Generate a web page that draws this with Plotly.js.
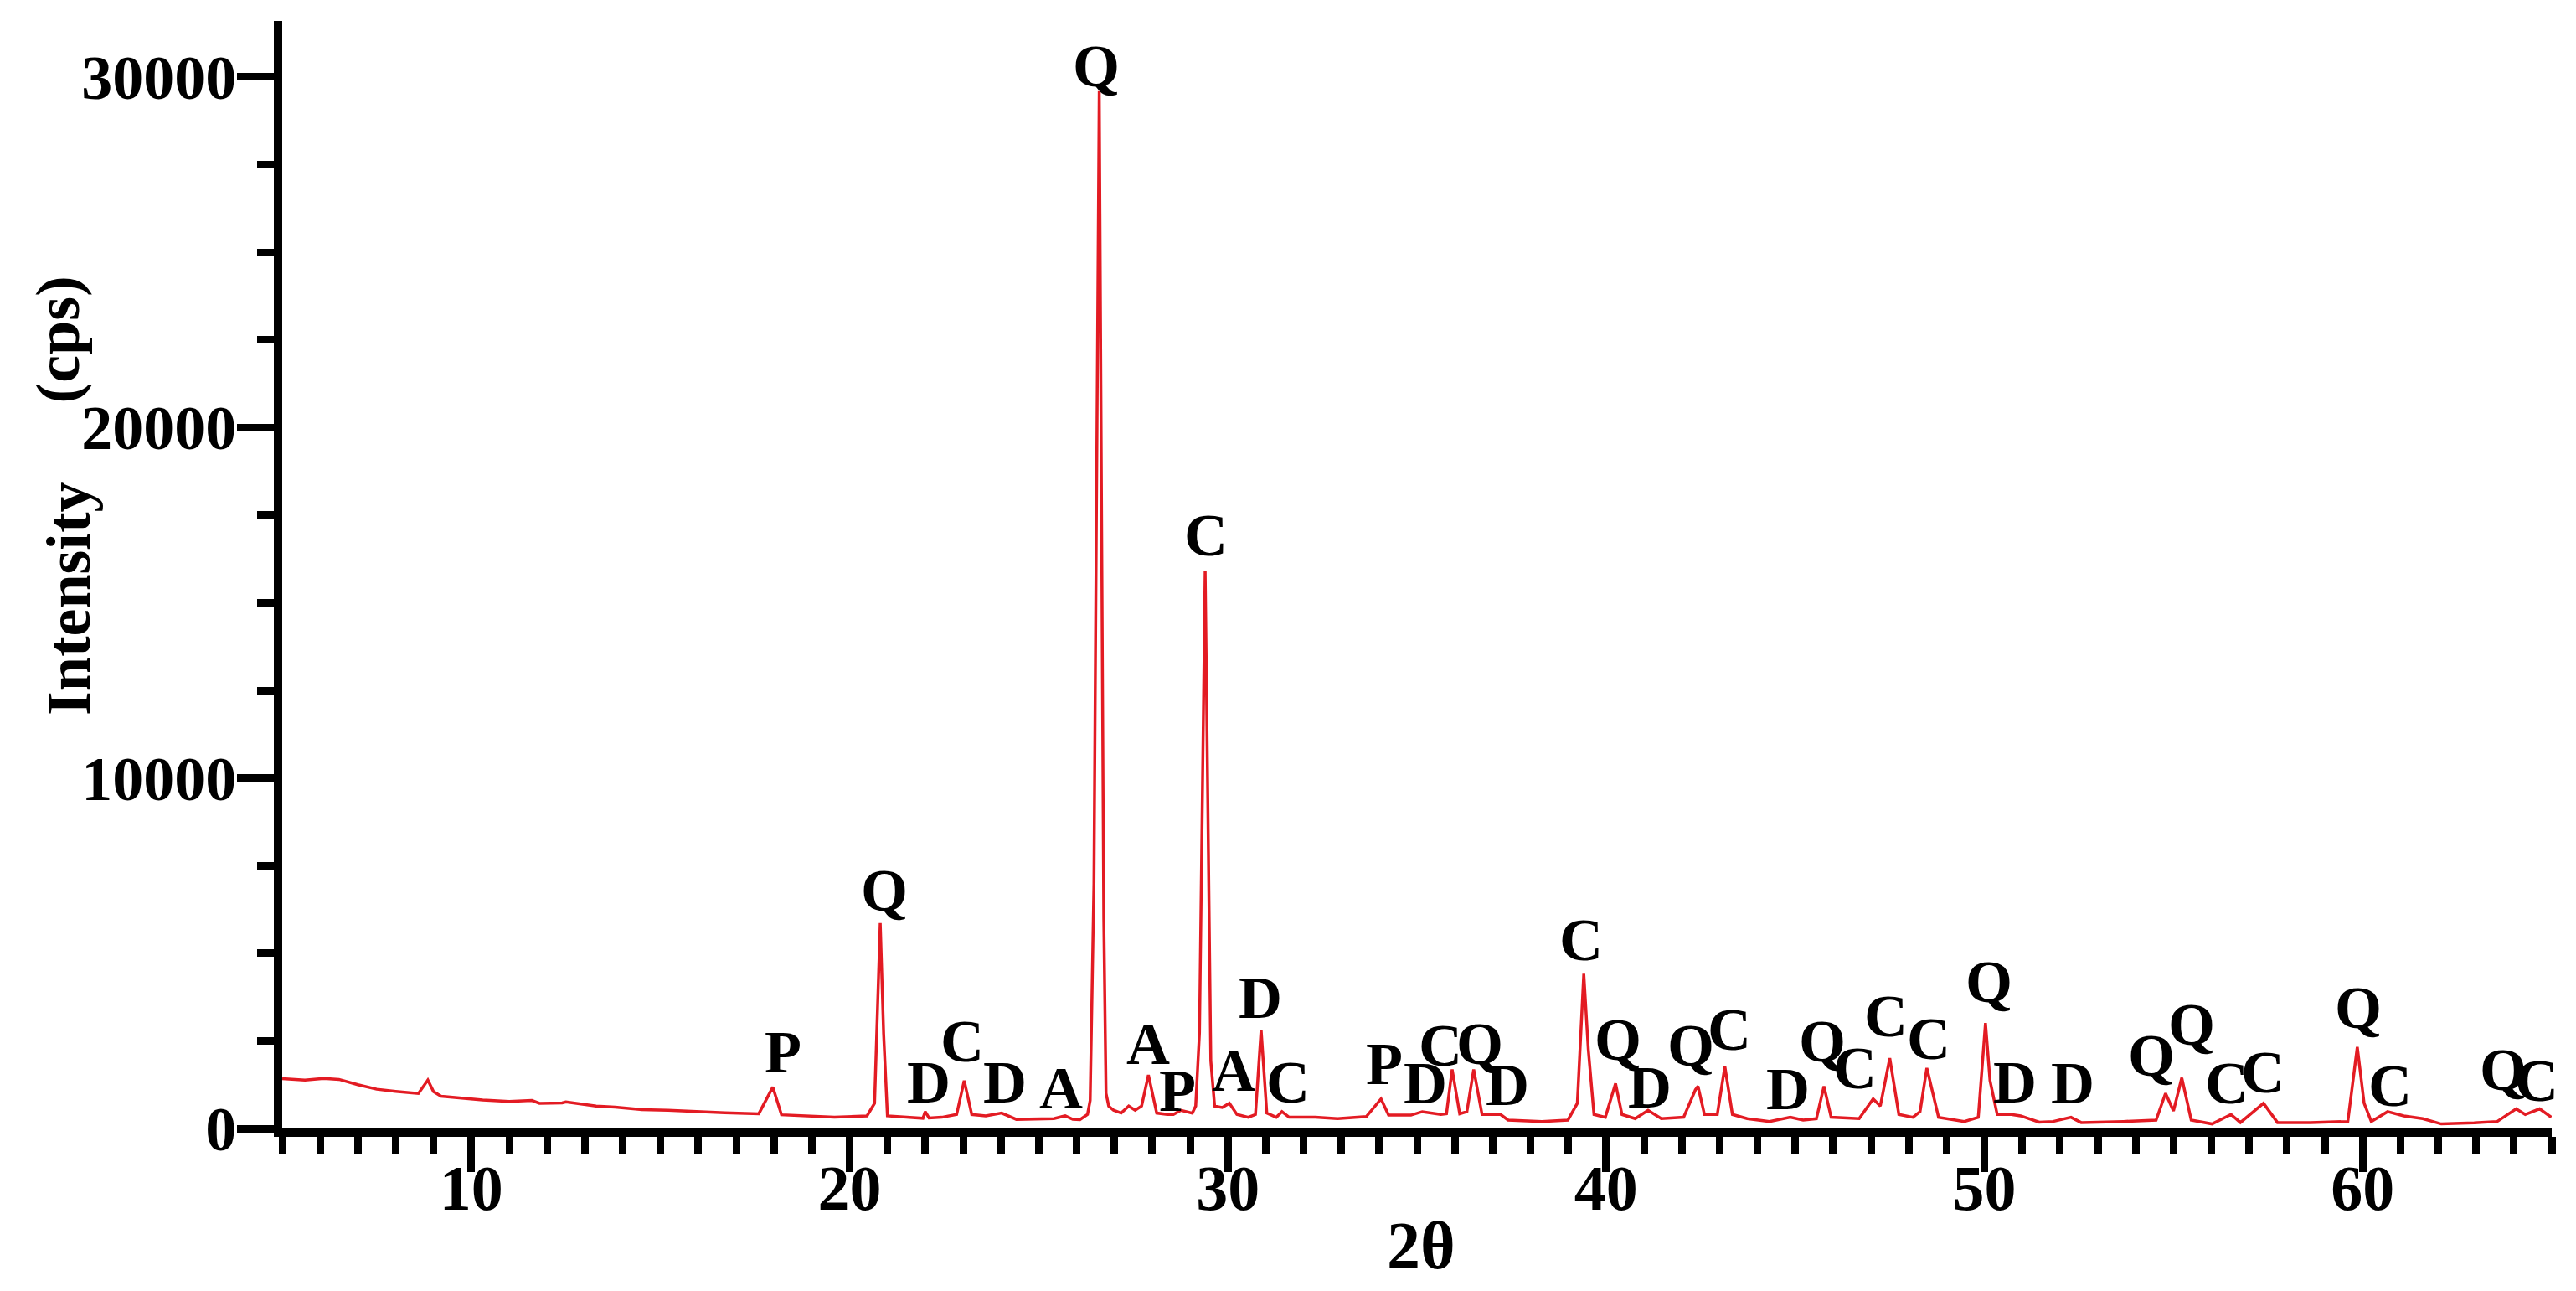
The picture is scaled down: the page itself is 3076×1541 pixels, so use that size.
<!DOCTYPE html>
<html>
<head>
<meta charset="utf-8">
<script src="https://cdn.plot.ly/plotly-3.0.1.min.js"></script>
<style>
  html, body { margin: 0; padding: 0; background: #fff; }
  #xrd { width: 3076px; height: 1541px; }
</style>
</head>
<body>
<div id="xrd"></div>
<script>
// XRD pattern (2theta in degrees, intensity in cps)
var twoTheta = [
  5.0, 5.6, 6.1, 6.5, 7.0, 7.5, 8.0, 8.6, 8.85, 9.0, 9.2, 9.8, 10.3, 11.0, 11.6, 11.8,
  12.4, 12.5, 13.1, 13.3, 13.8, 14.5, 15.2, 15.9, 16.7, 17.6, 17.97, 18.2, 19.0, 19.6,
  20.46, 20.66, 20.81, 20.9, 21.0, 21.5, 21.94, 22.0, 22.1, 22.44, 22.83, 23.03, 23.23,
  23.6, 24.02, 24.41, 25.0, 25.4, 25.7, 25.9, 26.09, 26.29, 26.36, 26.42, 26.46, 26.6,
  26.72, 26.78, 26.85, 26.98, 27.18, 27.38, 27.55, 27.72, 27.9, 28.12, 28.4, 28.56,
  28.76, 29.06, 29.15, 29.25, 29.4, 29.55, 29.65, 29.85, 30.04, 30.24, 30.54, 30.73,
  30.88, 31.03, 31.28, 31.43, 31.62, 32.31, 32.9, 33.66, 34.05, 34.25, 34.84, 35.14,
  35.63, 35.78, 35.93, 36.13, 36.32, 36.5, 36.72, 37.21, 37.41, 38.3, 38.99, 39.24,
  39.41, 39.53, 39.68, 39.98, 40.25, 40.42, 40.77, 41.11, 41.46, 42.05, 42.36, 42.43,
  42.6, 42.94, 43.14, 43.34, 43.73, 44.32, 44.87, 45.21, 45.56, 45.76, 45.95, 46.69,
  47.06, 47.25, 47.5, 47.74, 48.11, 48.3, 48.48, 48.79, 49.47, 49.84, 50.03, 50.15,
  50.34, 50.71, 50.96, 51.45, 51.82, 52.29, 52.56, 53.68, 54.54, 54.79, 54.91, 55.0,
  55.22, 55.47, 56.02, 56.52, 56.77, 57.38, 57.75, 58.62, 59.61, 59.86, 60.04, 60.23,
  60.66, 61.09, 61.59, 62.08, 62.95, 63.56, 64.06, 64.3, 64.68, 64.99
];
var intensity = [
  1420, 1380, 1430, 1400, 1250, 1120, 1060, 1000, 1380, 1050, 920, 860, 810, 770, 800, 720,
  730, 760, 680, 640, 610, 540, 520, 480, 450, 420, 1180, 390, 350, 320,
  360, 720, 5860, 2700, 360, 330, 290, 480, 300, 320, 400, 1365, 400,
  360, 440, 260, 280, 280, 360, 260, 250, 400, 800, 5000, 7000, 29600,
  6000, 1000, 640, 520, 440, 640, 520, 640, 1525, 440, 400, 400,
  520, 440, 640, 2730, 15900, 1925, 640, 600, 720, 400, 320, 400,
  2810, 440, 320, 480, 320, 320, 280, 340, 843, 380, 380, 480,
  400, 420, 1685, 420, 480, 1685, 400, 400, 240, 200, 240, 720,
  4414, 2250, 400, 320, 1284, 400, 280, 520, 280, 320, 1100, 1204,
  400, 400, 1766, 400, 280, 200, 320, 240, 280, 1204, 320, 280,
  843, 640, 2006, 400, 320, 480, 1725, 320, 200, 320, 3010, 1365,
  400, 400, 360, 180, 200, 320, 170, 200, 240, 1003, 720, 500,
  1445, 240, 130, 400, 170, 720, 170, 170, 200, 2327, 720, 200,
  480, 360, 280, 130, 160, 200, 560, 400, 560, 320
];

// phase labels: Q quartz, C calcite, D dolomite, A albite, P
var phaseLabels = ['P', 'Q', 'D', 'C', 'D', 'A', 'Q', 'A', 'P', 'C', 'A', 'D', 'C', 'P', 'D',
  'C', 'Q', 'D', 'C', 'Q', 'D', 'Q', 'C', 'D', 'Q', 'C', 'C', 'C', 'Q', 'D', 'D', 'Q', 'Q',
  'C', 'C', 'Q', 'C', 'Q', 'C'];
var labelTheta = [18.24, 20.91, 22.09, 22.98, 24.1, 25.58, 26.53, 27.89, 28.66, 29.42, 30.16,
  30.85, 31.6, 34.13, 35.22, 35.63, 36.65, 37.39, 39.34, 40.32, 41.16, 42.23, 43.26, 44.8,
  45.71, 46.58, 47.4, 48.52, 50.12, 50.81, 52.34, 54.42, 55.47, 56.4, 57.36, 59.88, 60.72,
  63.71, 64.61];
var labelHeight = [2167, 6782, 1324, 2488, 1324, 1148, 30300, 2408, 1084, 16930, 1645,
  3732, 1324, 1846, 1284, 2368, 2408, 1244, 5377, 2528, 1164, 2368, 2809, 1124,
  2488, 1725, 3210, 2568, 4174, 1324, 1284, 2087, 2970, 1284, 1605, 3451, 1220,
  1685, 1364];

var serif = 'Liberation Serif, Times New Roman, serif';

var trace = {
  x: twoTheta,
  y: intensity,
  type: 'scatter',
  mode: 'lines',
  line: {color: '#e31b23', width: 3.5},
  hoverinfo: 'skip'
};

var notes = phaseLabels.map(function (t, i) {
  return {
    x: labelTheta[i], y: labelHeight[i], xref: 'x', yref: 'y',
    text: '<b>' + t + '</b>', showarrow: false,
    xanchor: 'center', yanchor: 'middle',
    font: {family: serif, size: 72, color: '#000'}
  };
});

// the y title is split around the 20000 tick label, as in the figure
notes.push({
  xref: 'paper', yref: 'paper', x: -0.099, y: 0.712,
  text: '<b>(cps)</b>', textangle: -90, showarrow: false,
  xanchor: 'center', yanchor: 'middle',
  font: {family: serif, size: 74, color: '#000'}
});
notes.push({
  xref: 'paper', yref: 'paper', x: -0.094, y: 0.479,
  text: '<b>Intensity</b>', textangle: -90, showarrow: false,
  xanchor: 'center', yanchor: 'middle',
  font: {family: serif, size: 74, color: '#000'}
});
notes.push({
  xref: 'paper', yref: 'paper', x: 0.502, y: -0.106,
  text: '<b>2θ</b>', showarrow: false,
  xanchor: 'center', yanchor: 'middle',
  font: {family: serif, size: 80, color: '#000'}
});

var layout = {
  width: 3076,
  height: 1541,
  margin: {l: 337, r: 29, t: 25, b: 194},
  paper_bgcolor: '#fff',
  plot_bgcolor: '#fff',
  showlegend: false,
  xaxis: {
    range: [5, 65],
    dtick: 10,
    tick0: 0,
    ticks: 'outside',
    ticklen: 42,
    tickwidth: 9,
    tickcolor: '#000',
    ticklabelstandoff: -46,
    showline: true,
    linecolor: '#000',
    linewidth: 10,
    showgrid: false,
    zeroline: false,
    tickfont: {family: serif, size: 76, color: '#000', weight: 'bold'},
    minor: {dtick: 1, ticks: 'outside', ticklen: 21, tickwidth: 9, tickcolor: '#000', showgrid: false}
  },
  yaxis: {
    range: [0, 31600],
    dtick: 10000,
    tick0: 0,
    tickformat: 'd',
    ticks: 'outside',
    ticklen: 44,
    tickwidth: 9,
    tickcolor: '#000',
    ticklabelstandoff: -14,
    showline: true,
    linecolor: '#000',
    linewidth: 10,
    showgrid: false,
    zeroline: false,
    tickfont: {family: serif, size: 74, color: '#000', weight: 'bold'},
    minor: {dtick: 2500, ticks: 'outside', ticklen: 20, tickwidth: 9, tickcolor: '#000', showgrid: false}
  },
  annotations: notes
};

Plotly.newPlot('xrd', [trace], layout, {staticPlot: true, displayModeBar: false});
</script>
</body>
</html>
